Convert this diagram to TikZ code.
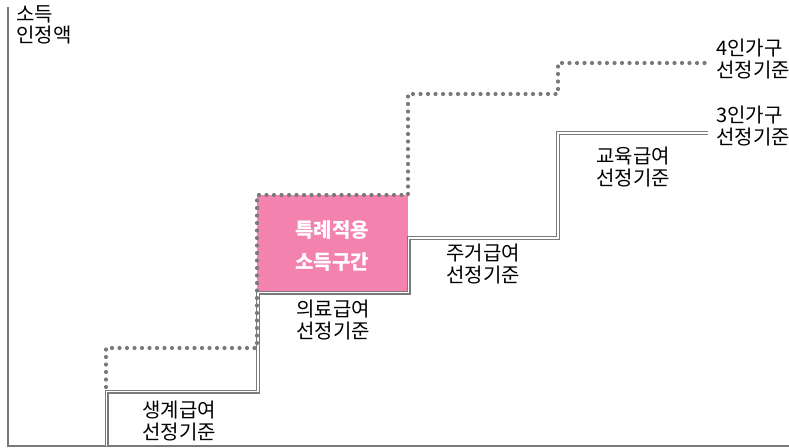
\documentclass[tikz,border=0pt]{standalone}
\usepackage{fontspec}
\setmainfont{Noto Sans CJK KR}
\usepackage{xcolor}

\begin{document}
\begin{tikzpicture}[x=1pt,y=-1pt,
    label/.style={inner sep=0pt, align=center, font=\fontsize{20}{21.5}\selectfont},
    axisline/.style={draw=axis_gray, line width=1.8pt},
    solidstep/.style={draw=axis_gray, double=white, double distance=1.8pt, line width=1.1pt},
    dotstep/.style={draw=axis_gray, line width=4.2pt, line cap=round, dash pattern=on 0pt off 7.5pt}]
    \definecolor{axis_gray}{HTML}{7A7A7A}
    \definecolor{band_pink}{HTML}{F383AE}
    %\draw[help lines] (0,0) grid (789,447);
    \useasboundingbox (0,0) rectangle (789,447);

    % axes
    \draw[axisline] (8,7) -- (8,446) -- (789,446);

    % special band
    \node[fill=band_pink, minimum width=151pt, minimum height=96pt, inner sep=0pt] (band) at (332,243) {};
    \node[text=white, align=center, font=\fontsize{20}{32}\selectfont\bfseries] (bandtext) at (332,246) {특례적용\\소득구간};

    % 3-person household
    \draw[solidstep] (106.5,446) -- (106.5,391.5) -- (258,391.5) -- (258,292.5) -- (408.5,292.5)
        -- (408.5,238) -- (558,238) -- (558,133) -- (708,133);
    % 4-person household
    \draw[dotstep] (106,387) -- (106,348) -- (257,348) -- (257,195) -- (408,195)
        -- (408,94) -- (558,94) -- (558,63) -- (706,63);

    \node[label, align=left, anchor=north west] (yaxis) at (16,5) {소득\\인정액};
    \node[label, align=left, anchor=north west] (four) at (716,39) {4인가구\\선정기준};
    \node[label, align=left, anchor=north west] (three) at (716,106) {3인가구\\선정기준};
    \node[label] (edu) at (633,167) {교육급여\\선정기준};
    \node[label] (house) at (483,264) {주거급여\\선정기준};
    \node[label] (med) at (333,320) {의료급여\\선정기준};
    \node[label] (live) at (179,421) {생계급여\\선정기준};
\end{tikzpicture}
\end{document}
